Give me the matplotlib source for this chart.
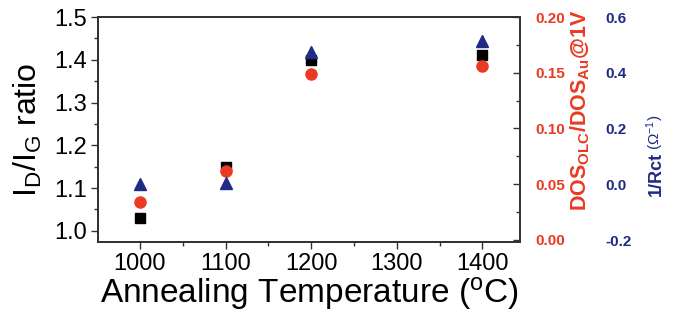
import matplotlib.pyplot as plt
from matplotlib.ticker import MultipleLocator

plt.rcParams['font.family'] = ['Liberation Sans', 'DejaVu Sans']
plt.rcParams['mathtext.fontset'] = 'custom'
plt.rcParams['mathtext.rm'] = 'Liberation Sans'
plt.rcParams['mathtext.it'] = 'Liberation Sans:italic'
plt.rcParams['mathtext.bf'] = 'Liberation Sans:bold'

# data
temps = [1000, 1100, 1200, 1400]
id_ig = [1.03, 1.15, 1.40, 1.41]          # left axis, black squares
dos_ratio = [0.034, 0.062, 0.149, 0.156]  # red axis, circles
inv_rct = [0.0, 0.003, 0.473, 0.514]      # blue axis, triangles

red = '#ea3a22'
navy = '#1f2b85'


def main():
    fig = plt.figure(figsize=(6.75, 3.22), dpi=100)
    ax = fig.add_axes([98 / 675, 80 / 322, 422 / 675, 225 / 322])
    ax_red = ax.twinx()
    ax_blue = ax.twinx()

    ax_red.plot(temps, dos_ratio, 'o', color=red, ms=8, mec=red, zorder=2)
    ax.plot(temps, id_ig, 's', color='black', ms=7, zorder=3)
    ax_blue.plot(temps, inv_rct, '^', color=navy, ms=8.5, zorder=4)

    ax.set_xlim(951, 1444)
    ax.set_ylim(0.974, 1.5)
    ax_red.set_ylim(-0.0018, 0.2)
    ax_blue.set_ylim(-0.207, 0.6)

    ax.xaxis.set_major_locator(MultipleLocator(100))
    ax.xaxis.set_minor_locator(MultipleLocator(50))
    ax.yaxis.set_major_locator(MultipleLocator(0.1))
    ax.yaxis.set_minor_locator(MultipleLocator(0.05))
    ax.tick_params(which='both', direction='out', top=False, right=False,
                   width=1, color='#333333')
    ax.tick_params(which='major', length=5, labelsize=17, pad=3)
    ax.tick_params(which='minor', length=3)
    ax.yaxis.set_major_formatter(plt.FormatStrFormatter('%.1f'))

    ax_red.yaxis.set_major_locator(MultipleLocator(0.05))
    ax_red.yaxis.set_minor_locator(MultipleLocator(0.025))
    ax_red.yaxis.set_major_formatter(plt.FormatStrFormatter('%.2f'))
    ax_red.tick_params(which='both', direction='in', width=1, color='#333333',
                       labelcolor=red, labelsize=11, pad=11)
    ax_red.tick_params(which='major', length=5)
    ax_red.tick_params(which='minor', length=3)
    for lab in ax_red.get_yticklabels():
        lab.set_fontweight('bold')

    ax_blue.spines['right'].set_position(('axes', 1 + 85 / 422))
    ax_blue.spines['right'].set_visible(False)
    ax_blue.yaxis.set_major_locator(MultipleLocator(0.2))
    ax_blue.yaxis.set_major_formatter(plt.FormatStrFormatter('%.1f'))
    ax_blue.tick_params(length=0, labelcolor=navy, labelsize=11, pad=0)
    for lab in ax_blue.get_yticklabels():
        lab.set_fontweight('bold')

    for a in (ax, ax_red, ax_blue):
        for s in a.spines.values():
            s.set_linewidth(1.2)
            s.set_color('#333333')

    ax.set_xlabel(r'Annealing Temperature ($\mathregular{^oC}$)', fontsize=24,
                  labelpad=0)
    ax.set_ylabel(r'I$_\mathregular{D}$/I$_\mathregular{G}$ ratio', fontsize=23,
                  labelpad=7)

    fig.text(580 / 675, 1 - 110 / 322,
             r'DOS$_\mathregular{OLC}$/DOS$_\mathregular{Au}$@1V',
             rotation=90, ha='center', va='center', color=red,
             fontsize=15.5, fontweight='bold')
    fig.text(656 / 675, 1 - 196 / 322, '1/Rct', rotation=90, ha='center',
             va='bottom', color=navy, fontsize=13, fontweight='bold')
    fig.text(655 / 675, 1 - 150 / 322, r'($\mathregular{\Omega^{-1}}$)',
             rotation=90, ha='center', va='bottom', color=navy, fontsize=11)

    fig.savefig('out.png', dpi=100)


if __name__ == '__main__':
    main()
